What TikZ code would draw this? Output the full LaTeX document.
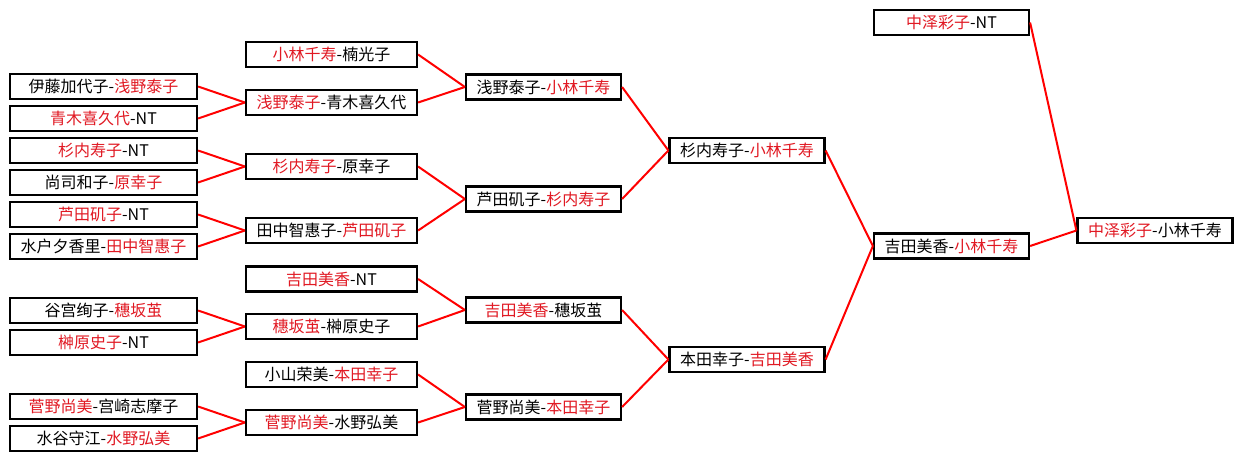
\documentclass[tikz,border=0pt]{standalone}
\usepackage{fontspec}
\newfontfamily\cjk{Noto Sans CJK SC}
\definecolor{winred}{RGB}{225,25,35}
\newcommand{\win}[1]{\textcolor{winred}{#1}}
\tikzset{
  match/.style={draw, line width=2.2pt, fill=white, minimum height=25pt, inner sep=0pt,
    font=\cjk\fontsize{16}{18}\selectfont},
  col1/.style={match, minimum width=187pt},
  col2/.style={match, minimum width=171pt},
  col3/.style={match, minimum width=155pt},
  link/.style={draw=red, line width=2pt}
}
\begin{document}
\begin{tikzpicture}[x=1pt,y=-1pt]
  \useasboundingbox (0,0) rectangle (1242,461);
  % first round
  \node[col1] (a1) at (103.5,86.5) {伊藤加代子-\win{浅野泰子}};
  \node[col1] (a2) at (103.5,118.5) {\win{青木喜久代}-NT};
  \node[col1] (a3) at (103.5,150.5) {\win{杉内寿子}-NT};
  \node[col1] (a4) at (103.5,182.5) {尚司和子-\win{原幸子}};
  \node[col1] (a5) at (103.5,214.5) {\win{芦田矶子}-NT};
  \node[col1] (a6) at (103.5,246.5) {水户夕香里-\win{田中智惠子}};
  \node[col1] (a7) at (103.5,310.5) {谷宫绚子-\win{穗坂茧}};
  \node[col1] (a8) at (103.5,342.5) {\win{榊原史子}-NT};
  \node[col1] (a9) at (103.5,406.5) {\win{菅野尚美}-宫崎志摩子};
  \node[col1] (a10) at (103.5,438.5) {水谷守江-\win{水野弘美}};
  % second round
  \node[col2] (b1) at (331.5,54.5) {\win{小林千寿}-楠光子};
  \node[col2] (b2) at (331.5,102.5) {\win{浅野泰子}-青木喜久代};
  \node[col2] (b3) at (331.5,166.5) {\win{杉内寿子}-原幸子};
  \node[col2] (b4) at (331.5,230.5) {田中智惠子-\win{芦田矶子}};
  \node[col2] (b5) at (331.5,279) {\win{吉田美香}-NT};
  \node[col2] (b6) at (331.5,326.5) {\win{穗坂茧}-榊原史子};
  \node[col2] (b7) at (331.5,374.5) {小山荣美-\win{本田幸子}};
  \node[col2] (b8) at (331.5,422.5) {\win{菅野尚美}-水野弘美};
  % third round
  \node[col3] (c1) at (543.5,87) {浅野泰子-\win{小林千寿}};
  \node[col3] (c2) at (543.5,199) {芦田矶子-\win{杉内寿子}};
  \node[col3] (c3) at (543.5,310) {\win{吉田美香}-穗坂茧};
  \node[col3] (c4) at (543.5,407) {菅野尚美-\win{本田幸子}};
  % semifinals and final
  \node[col3] (d1) at (747,150.5) {杉内寿子-\win{小林千寿}};
  \node[col3] (d2) at (747,359.5) {本田幸子-\win{吉田美香}};
  \node[col3] (e1) at (951.5,22.5) {\win{中泽彩子}-NT};
  \node[col3] (e2) at (951.5,246) {吉田美香-\win{小林千寿}};
  \node[col3] (f1) at (1155,230.5) {\win{中泽彩子}-小林千寿};
  \foreach \s/\t in {a1/b2,a2/b2,a3/b3,a4/b3,a5/b4,a6/b4,a7/b6,a8/b6,a9/b8,a10/b8,
                     b1/c1,b2/c1,b3/c2,b4/c2,b5/c3,b6/c3,b7/c4,b8/c4,
                     c1/d1,c2/d1,c3/d2,c4/d2,d1/e2,d2/e2,e1/f1,e2/f1}{
    \draw[link] (\s.east) -- (\t.west);
  }
\end{tikzpicture}
\end{document}
